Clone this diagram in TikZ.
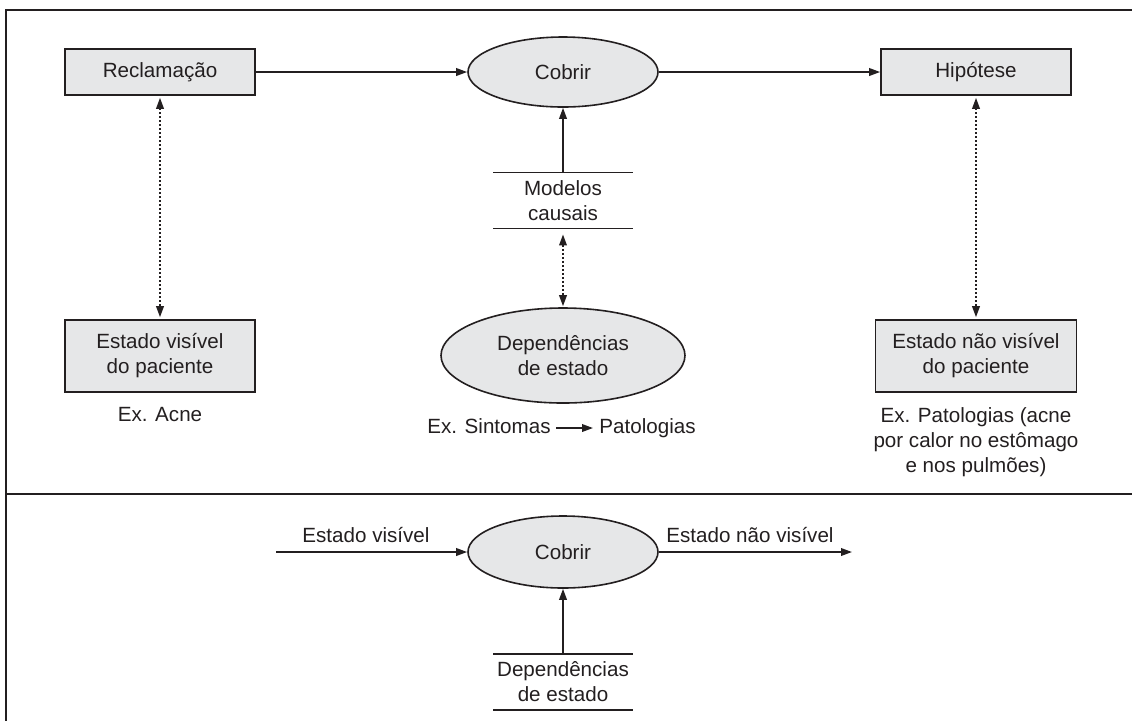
\documentclass[tikz,border=0pt]{standalone}
\usepackage{fontspec}
\setmainfont{Liberation Sans}
\usetikzlibrary{arrows.meta,shapes.geometric}
\definecolor{ink}{RGB}{35,31,32}
\definecolor{boxfill}{RGB}{230,231,232}
\begin{document}
\begin{tikzpicture}[x=0.5pt,y=-0.5pt,
  every node/.style={text=ink, font=\fontsize{10.3}{12.5}\selectfont, align=center},
  tipend/.style={-{Triangle[length=5.5pt,width=3.8pt]}},
  link/.style={draw=ink, line width=0.85pt, tipend},
  dotlink/.style={draw=ink, line width=0.85pt, dash pattern=on 1pt off 1pt,
    {Triangle[length=5.5pt,width=3.8pt]}-{Triangle[length=5.5pt,width=3.8pt]}},
  greybox/.style={draw=ink, fill=boxfill, line width=0.8pt, rectangle, inner sep=0pt},
  greyoval/.style={draw=ink, fill=boxfill, line width=0.8pt, ellipse, inner sep=0pt},
  store/.style={inner sep=0pt, minimum width=69.5pt, minimum height=27.5pt},
  storeline/.style={draw=ink, line width=0.8pt},
  frame/.style={draw=ink, line width=1.1pt},
  inline/.style={inner sep=0pt, text height=0.75em, text depth=0.22em}]
\useasboundingbox (0,0) rectangle (1132,720);

% frame and divider
\draw[frame] (1132,10) -- (6,10) -- (6,722);
\draw[frame] (6,494) -- (1132,494);

% ---- upper panel ----
\node[greybox, minimum width=95pt, minimum height=23pt] (rec) at (160,72) {Reclamação};
\node[greyoval, minimum width=95pt, minimum height=35pt] (cob) at (563,72) {Cobrir};
\node[greybox, minimum width=95pt, minimum height=23pt] (hip) at (976,72) {Hipótese};
\node[store] (mod) at (563,200.5) {Modelos\\causais};
\node[greyoval, minimum width=122pt, minimum height=47.5pt] (dep) at (563,355.5) {Dependências\\de estado};
\node[greybox, minimum width=95pt, minimum height=36pt] (vis) at (160,356) {Estado visível\\do paciente};
\node[greybox, minimum width=100.5pt, minimum height=36pt] (nvis) at (976,356) {Estado não visível\\do paciente};
\node (exacne) at (160,415) {Ex. Acne};
\node (expat) at (976,442) {Ex. Patologias (acne\\por calor no estômago\\e nos pulmões)};
\node[inline, anchor=east] (exsin) at (551,428) {Ex. Sintomas};
\node[inline, anchor=west] (pat) at (599,428) {Patologias};

\draw[storeline] (mod.north west) -- (mod.north east) (mod.south west) -- (mod.south east);

\draw[link] (rec) -- (cob);
\draw[link] (cob) -- (hip);
\draw[link] (mod.north) -- (cob.south);
\draw[dotlink, shorten <=1pt, shorten >=1pt] (rec.south) -- (vis.north);
\draw[dotlink, shorten <=1pt, shorten >=1pt] (hip.south) -- (nvis.north);
\draw[dotlink, shorten <=3pt, shorten >=0.5pt] (mod.south) -- (dep.north);
\draw[link, shorten <=2.5pt, shorten >=3pt] (exsin.east) -- (pat.west);

% ---- lower panel ----
\node[greyoval, minimum width=95pt, minimum height=36pt] (cob2) at (563,552) {Cobrir};
\node[store] (dep2) at (563,682) {Dependências\\de estado};
\coordinate (inL) at (276,552);
\coordinate (outR) at (852,552);
\node[anchor=base] (lvis) at (366,542) {Estado visível};
\node[anchor=base] (lnvis) at (750,542) {Estado não visível};

\draw[storeline] (dep2.north west) -- (dep2.north east) (dep2.south west) -- (dep2.south east);
\draw[link] (inL) -- (cob2.west);
\draw[link] (cob2.east) -- (outR);
\draw[link] (dep2.north) -- (cob2.south);
\end{tikzpicture}
\end{document}
